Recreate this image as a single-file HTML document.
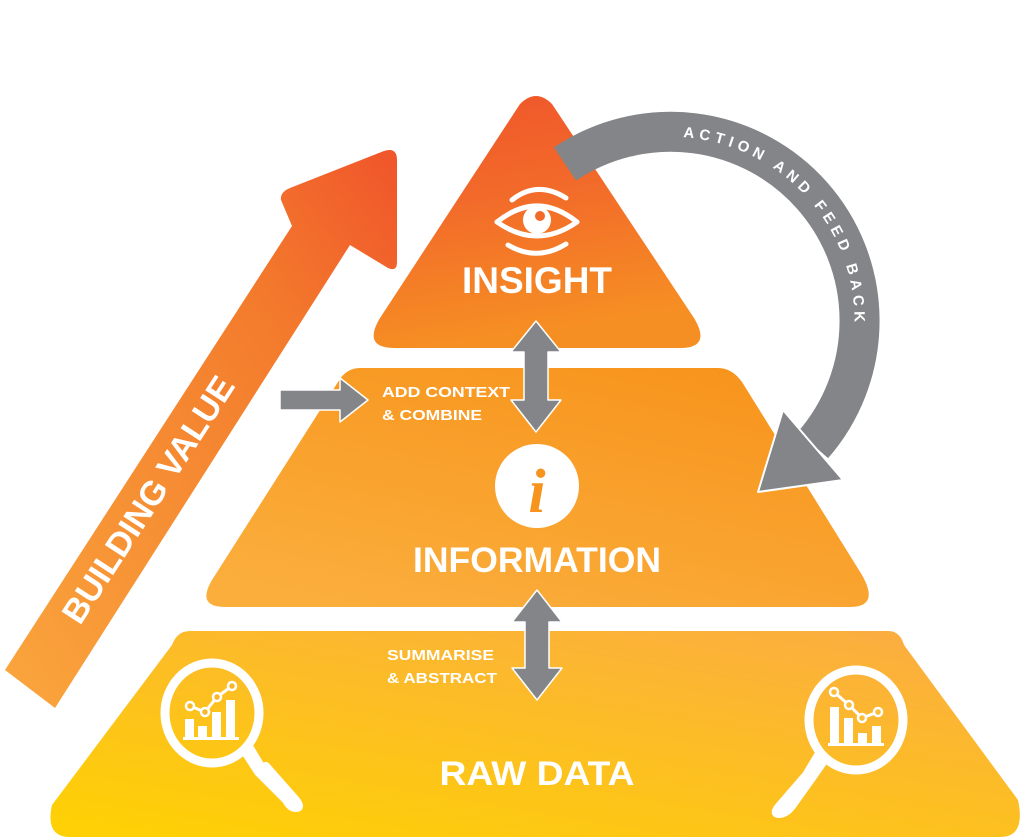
<!DOCTYPE html>
<html><head><meta charset="utf-8"><style>
html,body{margin:0;padding:0;background:#fff;}
svg{display:block;font-family:"Liberation Sans",sans-serif;font-weight:bold;}
</style></head><body>
<svg width="1024" height="837" viewBox="0 0 1024 837" xmlns="http://www.w3.org/2000/svg">
<defs>
<linearGradient id="gTop" x1="0" y1="0" x2="0.2" y2="1"><stop offset="0" stop-color="#f0552b"/><stop offset="0.45" stop-color="#f26a2a"/><stop offset="1" stop-color="#f68f23"/></linearGradient>
<linearGradient id="gMid" x1="0.8" y1="0" x2="0.2" y2="1"><stop offset="0" stop-color="#f7941d"/><stop offset="1" stop-color="#fbae3c"/></linearGradient>
<linearGradient id="gBot" x1="0.9" y1="0" x2="0.1" y2="1"><stop offset="0" stop-color="#fbad41"/><stop offset="1" stop-color="#fed005"/></linearGradient>
<linearGradient id="gArr" x1="0" y1="1" x2="1" y2="0"><stop offset="0" stop-color="#faa63d"/><stop offset="0.7" stop-color="#f37a2c"/><stop offset="1" stop-color="#f0552b"/></linearGradient>
<path id="arc" d="M565,164 A189,189 0 0 1 813,445"/>
</defs>

<!-- bottom -->
<path d="M190,631 L888,631 Q900,631 904,645 L1018,800 Q1026,837 1000,837 L70,837 Q45,837 52,805 L172,645 Q177,631 190,631 Z" fill="url(#gBot)"/>
<!-- middle -->
<path d="M360,368 L718,368 Q732,368 742,382 L862,575 Q880,607 850,607 L225,607 Q196,607 212,580 L338,382 Q346,368 360,368 Z" fill="url(#gMid)"/>
<!-- top -->
<path d="M520,104 Q536,88 552,104 L694,318 Q712,348 680,348 L395,348 Q362,348 380,318 Z" fill="url(#gTop)"/>

<!-- building value arrow -->
<path d="M5,670 L292,226 L281,200 Q280,192 290,188 L384,151 Q397,147 397,160 L397,262 Q397,272 388,268 L350,245 L55,708 Z" fill="url(#gArr)"/>
<text transform="translate(158,506) rotate(-57)" text-anchor="middle" font-size="34" fill="#fff">BUILDING VALUE</text>

<!-- grey feedback arc -->
<use href="#arc" fill="none" stroke="#848589" stroke-width="40"/>
<path d="M783,410 L843,480 L758,492 Z" fill="#848589" stroke="#fff" stroke-width="2" stroke-linejoin="round"/>
<text font-size="15" fill="#fff" dominant-baseline="central"><textPath href="#arc" startOffset="125" textLength="285" lengthAdjust="spacing">ACTION AND FEED BACK</textPath></text>

<!-- double arrows -->
<path d="M536,321 L561,352 L548,352 L548,400 L561,400 L536,432 L511,400 L524,400 L524,352 L511,352 Z" fill="#848589" stroke="#fff" stroke-width="1.5" stroke-linejoin="round"/>
<path d="M537,590 L562,622 L549,622 L549,668 L562,668 L537,700 L512,668 L525,668 L525,622 L512,622 Z" fill="#848589" stroke="#fff" stroke-width="1.5" stroke-linejoin="round"/>
<!-- small right arrow -->
<path d="M280,390 L340,390 L340,378 L368,400 L340,422 L340,410 L280,410 Z" fill="#848589" stroke="#fff" stroke-width="1.5" stroke-linejoin="round"/>

<!-- eye icon -->
<g fill="none" stroke="#fff" stroke-width="5" stroke-linecap="round">
<path d="M497,222 Q537,190 577,222"/>
<path d="M497,222 Q537,250 577,222"/>
<path d="M512,200 Q537,180 566,198"/>
<path d="M508,245 Q537,262 566,244"/>
</g>
<circle cx="537" cy="220" r="14" fill="#fff"/>
<circle cx="540" cy="216" r="5" fill="#f26a2a"/>

<text x="537" y="293" text-anchor="middle" font-size="37" fill="#fff">INSIGHT</text>

<text x="382" y="397" font-size="15" fill="#fff" textLength="128" lengthAdjust="spacingAndGlyphs">ADD CONTEXT</text>
<text x="382" y="420" font-size="15" fill="#fff" textLength="100" lengthAdjust="spacingAndGlyphs">&amp; COMBINE</text>

<circle cx="537" cy="486" r="42" fill="#fff"/>
<text x="537" y="512" text-anchor="middle" font-family="Liberation Serif,serif" font-style="italic" font-size="62" fill="#f7941d">i</text>

<text x="537" y="572" text-anchor="middle" font-size="35" fill="#fff" textLength="248" lengthAdjust="spacingAndGlyphs">INFORMATION</text>

<text x="387" y="660" font-size="15" fill="#fff" textLength="107" lengthAdjust="spacingAndGlyphs">SUMMARISE</text>
<text x="387" y="683" font-size="15" fill="#fff" textLength="110" lengthAdjust="spacingAndGlyphs">&amp; ABSTRACT</text>

<text x="537" y="785" text-anchor="middle" font-size="34" fill="#fff" textLength="195" lengthAdjust="spacingAndGlyphs">RAW DATA</text>

<!-- left magnifier -->
<g>
<ellipse cx="212" cy="713" rx="47" ry="50" fill="none" stroke="#fff" stroke-width="9"/>
<path d="M250,748 L262,768 L266,766 L296,800 Q302,808 296,808 Q290,808 286,800 L258,772 L245,752 Z" fill="#fff" stroke="#fff" stroke-width="8" stroke-linejoin="round"/>
<g fill="#fff"><rect x="185" y="719" width="9" height="20"/><rect x="198" y="726" width="9" height="13"/><rect x="212" y="712" width="9" height="27"/><rect x="226" y="700" width="9" height="39"/><rect x="183" y="737" width="56" height="3"/></g>
<polyline points="190,706 205,712 217,697 232,686" fill="none" stroke="#fff" stroke-width="3"/>
<g fill="#f9b82a" stroke="#fff" stroke-width="2.5"><circle cx="190" cy="706" r="4"/><circle cx="205" cy="712" r="4"/><circle cx="217" cy="697" r="4"/><circle cx="232" cy="686" r="4"/></g>
</g>
<!-- right magnifier -->
<g>
<ellipse cx="856" cy="720" rx="47" ry="50" fill="none" stroke="#fff" stroke-width="9"/>
<path d="M818,755 L806,775 L780,805 Q772,814 779,814 Q786,814 792,806 L812,778 L826,758 Z" fill="#fff" stroke="#fff" stroke-width="8" stroke-linejoin="round"/>
<g fill="#fff"><rect x="830" y="707" width="9" height="38"/><rect x="844" y="718" width="9" height="27"/><rect x="858" y="733" width="9" height="12"/><rect x="872" y="726" width="9" height="19"/><rect x="828" y="743" width="56" height="3"/></g>
<polyline points="834,692 849,705 862,718 878,712" fill="none" stroke="#fff" stroke-width="3"/>
<g fill="#fbbc38" stroke="#fff" stroke-width="2.5"><circle cx="834" cy="692" r="4"/><circle cx="849" cy="705" r="4"/><circle cx="862" cy="718" r="4"/><circle cx="878" cy="712" r="4"/></g>
</g>
</svg>
</body></html>
